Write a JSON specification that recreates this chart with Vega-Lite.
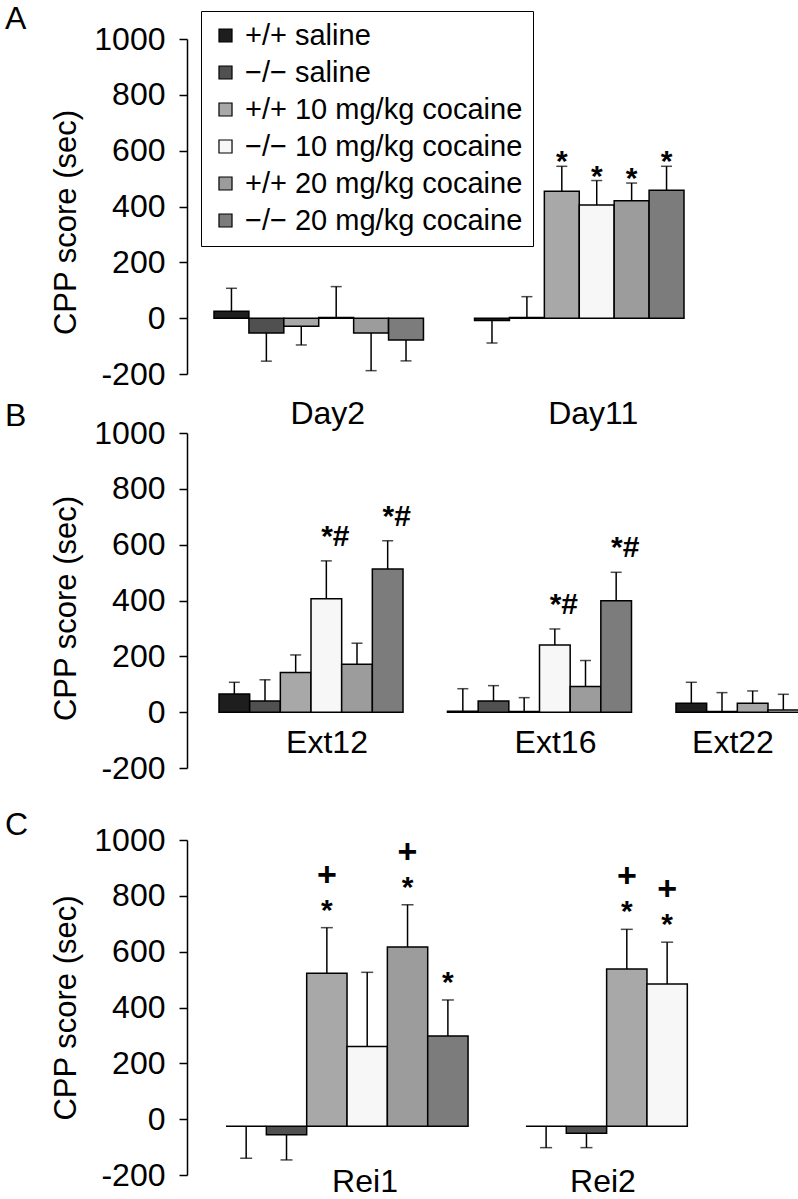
{
  "$schema": "https://vega.github.io/schema/vega-lite/v6.json",
  "background": "white",
  "padding": {"left": 5, "top": 2, "right": 0, "bottom": 0},
  "bounds": "flush",
  "spacing": 59,
  "config": {
    "font": "Liberation Sans",
    "view": {"stroke": null},
    "axisY": {"grid": false, "domainColor": "black", "domainWidth": 1.5, "tickColor": "black", "tickWidth": 1.5, "tickSize": 8, "labelFontSize": 32, "labelColor": "black", "labelPadding": 14, "labelFlush": false, "labelOverlap": false, "labelExpr": "'' + datum.value", "titleFontSize": 31, "titleFontWeight": "normal", "titleColor": "black", "titlePadding": 11},
    "axisX": {"domain": false, "ticks": false, "tickSize": 0, "grid": false, "labelFontSize": 32, "labelColor": "black", "labelAngle": 0, "labelBaseline": "alphabetic"},
    "title": {"fontSize": 32, "fontWeight": "normal", "color": "black", "anchor": "start", "frame": "group", "baseline": "alphabetic", "offset": 0, "dx": -182}
  },
  "datasets": {
    "bars": [
      {"panel": "A", "phase": "Day2", "group": "+/+ saline", "mean": 25, "errEnd": 107},
      {"panel": "A", "phase": "Day2", "group": "−/− saline", "mean": -53, "errEnd": -154},
      {"panel": "A", "phase": "Day2", "group": "+/+ 10 mg/kg cocaine", "mean": -29, "errEnd": -96},
      {"panel": "A", "phase": "Day2", "group": "−/− 10 mg/kg cocaine", "mean": 2, "errEnd": 113},
      {"panel": "A", "phase": "Day2", "group": "+/+ 20 mg/kg cocaine", "mean": -53, "errEnd": -188},
      {"panel": "A", "phase": "Day2", "group": "−/− 20 mg/kg cocaine", "mean": -78, "errEnd": -153},
      {"panel": "A", "phase": "Day11", "group": "+/+ saline", "mean": -8, "errEnd": -89},
      {"panel": "A", "phase": "Day11", "group": "−/− saline", "mean": 2, "errEnd": 77},
      {"panel": "A", "phase": "Day11", "group": "+/+ 10 mg/kg cocaine", "mean": 455, "errEnd": 544, "star": "*"},
      {"panel": "A", "phase": "Day11", "group": "−/− 10 mg/kg cocaine", "mean": 405, "errEnd": 493, "star": "*"},
      {"panel": "A", "phase": "Day11", "group": "+/+ 20 mg/kg cocaine", "mean": 421, "errEnd": 484, "star": "*"},
      {"panel": "A", "phase": "Day11", "group": "−/− 20 mg/kg cocaine", "mean": 458, "errEnd": 544, "star": "*"},
      {"panel": "B", "phase": "Ext12", "group": "+/+ saline", "mean": 65, "errEnd": 107},
      {"panel": "B", "phase": "Ext12", "group": "−/− saline", "mean": 40, "errEnd": 116},
      {"panel": "B", "phase": "Ext12", "group": "+/+ 10 mg/kg cocaine", "mean": 142, "errEnd": 205},
      {"panel": "B", "phase": "Ext12", "group": "−/− 10 mg/kg cocaine", "mean": 406, "errEnd": 542, "star": "*#"},
      {"panel": "B", "phase": "Ext12", "group": "+/+ 20 mg/kg cocaine", "mean": 172, "errEnd": 247},
      {"panel": "B", "phase": "Ext12", "group": "−/− 20 mg/kg cocaine", "mean": 513, "errEnd": 614, "star": "*#"},
      {"panel": "B", "phase": "Ext16", "group": "+/+ saline", "mean": 3, "errEnd": 84},
      {"panel": "B", "phase": "Ext16", "group": "−/− saline", "mean": 40, "errEnd": 95},
      {"panel": "B", "phase": "Ext16", "group": "+/+ 10 mg/kg cocaine", "mean": 2, "errEnd": 52},
      {"panel": "B", "phase": "Ext16", "group": "−/− 10 mg/kg cocaine", "mean": 241, "errEnd": 298, "star": "*#"},
      {"panel": "B", "phase": "Ext16", "group": "+/+ 20 mg/kg cocaine", "mean": 92, "errEnd": 185},
      {"panel": "B", "phase": "Ext16", "group": "−/− 20 mg/kg cocaine", "mean": 399, "errEnd": 501, "star": "*#"},
      {"panel": "B", "phase": "Ext22", "group": "+/+ saline", "mean": 32, "errEnd": 107},
      {"panel": "B", "phase": "Ext22", "group": "−/− saline", "mean": 2, "errEnd": 70},
      {"panel": "B", "phase": "Ext22", "group": "+/+ 10 mg/kg cocaine", "mean": 32, "errEnd": 76},
      {"panel": "B", "phase": "Ext22", "group": "−/− 10 mg/kg cocaine", "mean": 8, "errEnd": 64},
      {"panel": "C", "phase": "Rei1", "group": "+/+ saline", "mean": -25, "errEnd": -140},
      {"panel": "C", "phase": "Rei1", "group": "−/− saline", "mean": -56, "errEnd": -146},
      {"panel": "C", "phase": "Rei1", "group": "+/+ 10 mg/kg cocaine", "mean": 523, "errEnd": 686, "star": "*", "plus": "+"},
      {"panel": "C", "phase": "Rei1", "group": "−/− 10 mg/kg cocaine", "mean": 260, "errEnd": 526},
      {"panel": "C", "phase": "Rei1", "group": "+/+ 20 mg/kg cocaine", "mean": 617, "errEnd": 768, "star": "*", "plus": "+"},
      {"panel": "C", "phase": "Rei1", "group": "−/− 20 mg/kg cocaine", "mean": 298, "errEnd": 427, "star": "*"},
      {"panel": "C", "phase": "Rei2", "group": "+/+ saline", "mean": -25, "errEnd": -102},
      {"panel": "C", "phase": "Rei2", "group": "−/− saline", "mean": -50, "errEnd": -102},
      {"panel": "C", "phase": "Rei2", "group": "+/+ 10 mg/kg cocaine", "mean": 538, "errEnd": 680, "star": "*", "plus": "+"},
      {"panel": "C", "phase": "Rei2", "group": "−/− 10 mg/kg cocaine", "mean": 484, "errEnd": 634, "star": "*", "plus": "+"}
    ]
  },
  "resolve": {"scale": {"x": "independent", "y": "independent", "xOffset": "independent", "color": "independent"}, "legend": {"color": "independent"}},
  "vconcat": [
    {
      "width": 497, "height": 335,
      "title": {"text": "A", "dy": 29},
      "data": {"name": "bars"},
      "transform": [{"filter": "datum.panel == 'A'"}],
      "encoding": {
        "x": {"field": "phase", "type": "nominal", "scale": {"domain": ["Day2", "Day11"], "range": [27, 497], "paddingInner": 0.196, "paddingOuter": 0},
              "axis": {"title": null, "labelPadding": 49, "labelOffset": {"condition": {"test": "datum.value == 'Day2'", "value": 9}, "value": 14}}},
        "xOffset": {"field": "group", "type": "nominal", "scale": {"domain": ["+/+ saline", "−/− saline", "+/+ 10 mg/kg cocaine", "−/− 10 mg/kg cocaine", "+/+ 20 mg/kg cocaine", "−/− 20 mg/kg cocaine"], "paddingInner": 0, "paddingOuter": 0}}
      },
      "layer": [
        {"mark": {"type": "bar", "stroke": "black", "strokeWidth": 1.5},
         "encoding": {
           "y": {"field": "mean", "type": "quantitative", "scale": {"domain": [-200, 1000], "nice": false, "zero": false},
                 "axis": {"title": "CPP score (sec)", "values": [-200, 0, 200, 400, 600, 800, 1000], "titleY": 183}},
           "color": {"field": "group", "type": "nominal",
                     "scale": {"domain": ["+/+ saline", "−/− saline", "+/+ 10 mg/kg cocaine", "−/− 10 mg/kg cocaine", "+/+ 20 mg/kg cocaine", "−/− 20 mg/kg cocaine"], "range": ["#1e1e1e", "#505050", "#a8a8a8", "#f7f7f7", "#9c9c9c", "#7c7c7c"]},
                     "legend": {"title": null, "orient": "none", "legendX": 14, "legendY": -28, "padding": 10, "rowPadding": 7, "labelFontSize": 29, "labelColor": "black", "labelLimit": 500, "labelOffset": 5, "symbolType": "square", "symbolSize": 170, "symbolStrokeColor": "black", "symbolStrokeWidth": 1.2, "strokeColor": "black", "fillColor": "white"}}
         }},
        {"mark": {"type": "rule", "color": "black", "strokeWidth": 1.5},
         "encoding": {"y": {"field": "mean", "type": "quantitative"}, "y2": {"field": "errEnd"}}},
        {"mark": {"type": "tick", "orient": "horizontal", "size": 11, "thickness": 1.5, "color": "black"},
         "encoding": {"y": {"field": "errEnd", "type": "quantitative"}}},
        {"transform": [{"filter": "datum.star"}],
         "mark": {"type": "text", "fontSize": 30, "fontWeight": "bold", "baseline": "alphabetic", "dy": 5, "color": "black"},
         "encoding": {"y": {"field": "errEnd", "type": "quantitative"}, "text": {"field": "star"}}}
      ]
    },
    {
      "width": 610, "height": 335,
      "title": {"text": "B", "dy": 20},
      "data": {"name": "bars"},
      "transform": [{"filter": "datum.panel == 'B'"}],
      "encoding": {
        "x": {"field": "phase", "type": "nominal", "scale": {"domain": ["Ext12", "Ext16", "Ext22"], "range": [32, 673], "paddingInner": 0.1947, "paddingOuter": 0},
              "axis": {"title": null, "labelPadding": -16, "labelOffset": {"condition": {"test": "datum.value == 'Ext22'", "value": -35}, "value": 16}}},
        "xOffset": {"field": "group", "type": "nominal", "scale": {"domain": ["+/+ saline", "−/− saline", "+/+ 10 mg/kg cocaine", "−/− 10 mg/kg cocaine", "+/+ 20 mg/kg cocaine", "−/− 20 mg/kg cocaine"], "paddingInner": 0, "paddingOuter": 0}}
      },
      "layer": [
        {"mark": {"type": "bar", "stroke": "black", "strokeWidth": 1.5},
         "encoding": {
           "y": {"field": "mean", "type": "quantitative", "scale": {"domain": [-200, 1000], "nice": false, "zero": false},
                 "axis": {"title": "CPP score (sec)", "values": [-200, 0, 200, 400, 600, 800, 1000], "titleY": 175}},
           "color": {"field": "group", "type": "nominal",
                     "scale": {"domain": ["+/+ saline", "−/− saline", "+/+ 10 mg/kg cocaine", "−/− 10 mg/kg cocaine", "+/+ 20 mg/kg cocaine", "−/− 20 mg/kg cocaine"], "range": ["#1e1e1e", "#505050", "#a8a8a8", "#f7f7f7", "#9c9c9c", "#7c7c7c"]},
                     "legend": null}
         }},
        {"mark": {"type": "rule", "color": "black", "strokeWidth": 1.5},
         "encoding": {"y": {"field": "mean", "type": "quantitative"}, "y2": {"field": "errEnd"}}},
        {"mark": {"type": "tick", "orient": "horizontal", "size": 11, "thickness": 1.5, "color": "black"},
         "encoding": {"y": {"field": "errEnd", "type": "quantitative"}}},
        {"transform": [{"filter": "datum.star"}],
         "mark": {"type": "text", "fontSize": 30, "fontWeight": "bold", "baseline": "alphabetic", "dy": -15, "dx": 9, "color": "black"},
         "encoding": {"y": {"field": "errEnd", "type": "quantitative"}, "text": {"field": "star"}}}
      ]
    },
    {
      "width": 581, "height": 335,
      "title": {"text": "C", "dy": 22},
      "data": {"name": "bars"},
      "transform": [{"filter": "datum.panel == 'C'"}],
      "encoding": {
        "x": {"field": "phase", "type": "nominal", "scale": {"domain": ["Rei1", "Rei2"], "range": [39, 581], "paddingInner": 0.193, "paddingOuter": 0},
              "axis": {"title": null, "labelPadding": 29, "labelOffset": {"condition": {"test": "datum.value == 'Rei2'", "value": -44}, "value": 18}}},
        "xOffset": {"field": "group", "type": "nominal", "scale": {"domain": ["+/+ saline", "−/− saline", "+/+ 10 mg/kg cocaine", "−/− 10 mg/kg cocaine", "+/+ 20 mg/kg cocaine", "−/− 20 mg/kg cocaine"], "paddingInner": 0, "paddingOuter": 0}}
      },
      "layer": [
        {"mark": {"type": "bar", "stroke": "black", "strokeWidth": 1.5},
         "encoding": {
           "y": {"field": "mean", "type": "quantitative", "scale": {"domain": [-200, 1000], "nice": false, "zero": false, "range": [348, 13]},
                 "axis": {"title": "CPP score (sec)", "values": [-200, 0, 200, 400, 600, 800, 1000]}},
           "y2": {"datum": -25},
           "color": {"field": "group", "type": "nominal",
                     "scale": {"domain": ["+/+ saline", "−/− saline", "+/+ 10 mg/kg cocaine", "−/− 10 mg/kg cocaine", "+/+ 20 mg/kg cocaine", "−/− 20 mg/kg cocaine"], "range": ["#1e1e1e", "#505050", "#a8a8a8", "#f7f7f7", "#9c9c9c", "#7c7c7c"]},
                     "legend": null}
         }},
        {"mark": {"type": "rule", "color": "black", "strokeWidth": 1.5},
         "encoding": {"y": {"field": "mean", "type": "quantitative"}, "y2": {"field": "errEnd"}}},
        {"mark": {"type": "tick", "orient": "horizontal", "size": 12, "thickness": 1.5, "color": "black"},
         "encoding": {"y": {"field": "errEnd", "type": "quantitative"}}},
        {"transform": [{"filter": "datum.star"}],
         "mark": {"type": "text", "fontSize": 30, "fontWeight": "bold", "baseline": "alphabetic", "dy": -8, "color": "black"},
         "encoding": {"y": {"field": "errEnd", "type": "quantitative"}, "text": {"field": "star"}}},
        {"transform": [{"filter": "datum.plus"}],
         "mark": {"type": "text", "fontSize": 34, "fontWeight": "bold", "baseline": "alphabetic", "dy": -42, "color": "black"},
         "encoding": {"y": {"field": "errEnd", "type": "quantitative"}, "text": {"field": "plus"}}}
      ]
    }
  ]
}
